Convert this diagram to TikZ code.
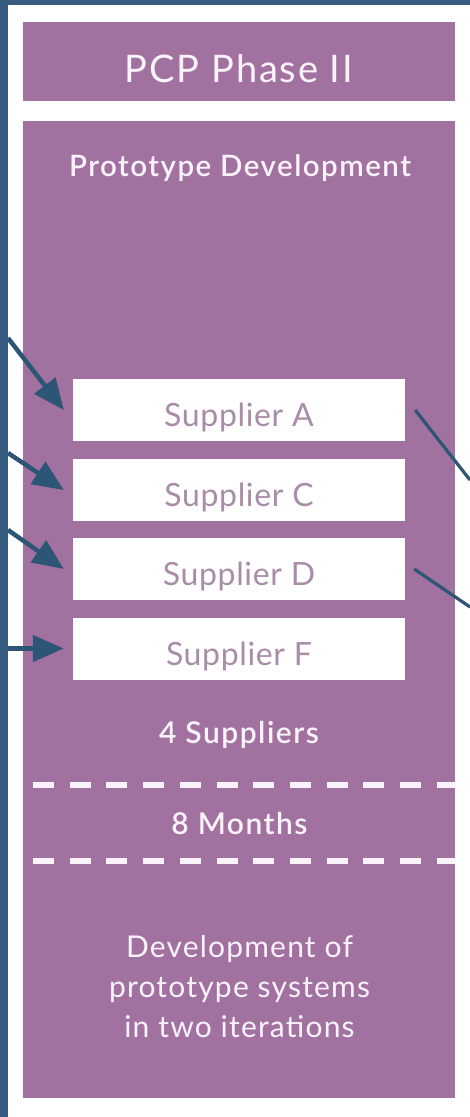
\documentclass[tikz,border=0pt]{standalone}
\usepackage{fontspec}
\setmainfont{Lato}
\newfontfamily\semib{Lato Semibold}
\usetikzlibrary{arrows.meta}
\definecolor{bgblue}{HTML}{355B7F}
\definecolor{arrblue}{HTML}{2C5576}
\definecolor{phpurple}{HTML}{A1729F}
\definecolor{lighttext}{HTML}{FBF3FB}
\definecolor{suptext}{HTML}{A88CA8}
\tikzset{
  titlebox/.style={fill=phpurple, minimum width=432pt, minimum height=79pt, inner sep=0pt,
    text=lighttext, font=\fontsize{38}{42}\selectfont\addfontfeatures{LetterSpace=5}, text height=41pt, text depth=0pt},
  mainbox/.style={fill=phpurple, minimum width=432pt, minimum height=977pt, inner sep=0pt},
  supbox/.style={fill=white, minimum width=332pt, minimum height=62pt, inner sep=0pt,
    text=suptext, font=\fontsize{32}{36}\selectfont\addfontfeatures{LetterSpace=2}, text height=33pt, text depth=0pt},
  headtext/.style={anchor=base, inner sep=0pt, text=lighttext, font=\semib\fontsize{29.5}{32}\selectfont\addfontfeatures{LetterSpace=5}},
  midtext/.style={anchor=base, inner sep=0pt, text=lighttext, font=\semib\fontsize{30}{34}\selectfont\addfontfeatures{LetterSpace=5}},
  desctext/.style={anchor=base, inner sep=0pt, text=lighttext, align=center, font=\fontsize{30}{40}\selectfont\addfontfeatures{LetterSpace=4}},
  inarrow/.style={draw=arrblue, line width=4.5pt, -{Triangle[length=31pt,width=26pt]}},
  outline/.style={draw=arrblue, line width=3.2pt},
  dashline/.style={draw=lighttext, line width=6pt, dash pattern=on 21pt off 15.7pt}
}
\begin{document}
\begin{tikzpicture}[x=1pt,y=-1pt]
\useasboundingbox (0,0) rectangle (470,1117);
\fill[bgblue] (0,0) rectangle (470,1117);
\fill[white] (8,5) rectangle (470,1117);
\node[titlebox] (title) at (239,61.5) {PCP Phase II};
\node[mainbox] (main) at (239,609.5) {};
\node[headtext] (proto) at (240,176.7) {Prototype Development};
\node[supbox] (A) at (239,410) {Supplier A};
\node[supbox] (C) at (239,490) {Supplier C};
\node[supbox] (D) at (239,569) {Supplier D};
\node[supbox] (F) at (239,648.5) {Supplier F};
\coordinate (inA) at (8,338);
\coordinate (inC) at (8,453);
\coordinate (inD) at (8,530);
\coordinate (inF) at (8,648.5);
\draw[inarrow] (inA) -- ([xshift=-9pt]A.west);
\draw[inarrow] (inC) -- ([xshift=-9pt]C.west);
\draw[inarrow] (inD) -- ([xshift=-9pt]D.west);
\draw[inarrow] (inF) -- ([xshift=-9pt]F.west);
\coordinate (outA) at (470,480);
\coordinate (outD) at (470,607);
\draw[outline] ([xshift=10pt]A.east) -- (outA);
\draw[outline] ([xshift=9pt]D.east) -- (outD);
\node[midtext] (nsup) at (239,743) {4 Suppliers};
\coordinate (d1a) at (33,785);
\coordinate (d1b) at (455,785);
\coordinate (d2a) at (33,861);
\coordinate (d2b) at (455,861);
\draw[dashline] (d1a) -- (d1b);
\draw[dashline] (d2a) -- (d2b);
\node[midtext] (nmon) at (239.5,834) {8 Months};
\node[desctext] (desc) at (239.5,1037) {Development of\\prototype systems\\in two iterations};
\end{tikzpicture}
\end{document}
